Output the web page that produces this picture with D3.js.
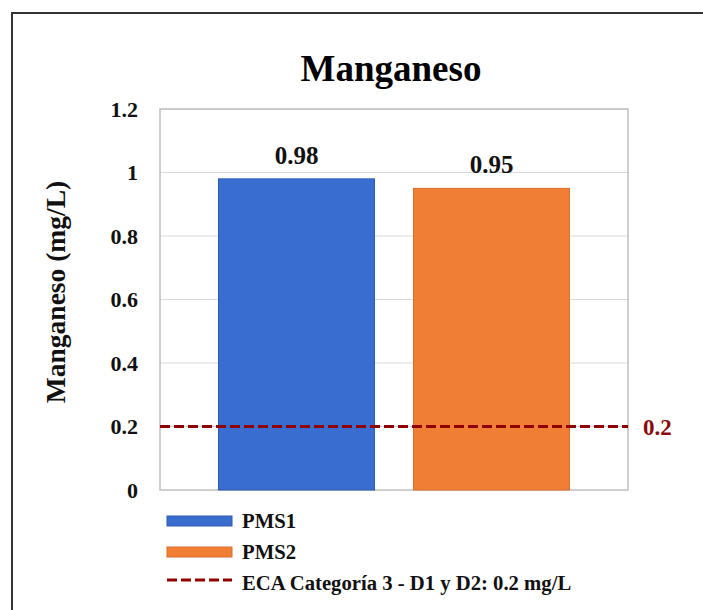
<!DOCTYPE html>
<html>
<head>
<meta charset="utf-8">
<script src="https://cdn.jsdelivr.net/npm/d3@7"></script>
</head>
<body style="margin:0;padding:0;background:#fff">
<svg id="chart" width="703" height="610" style="display:block"></svg>
<script>
// Manganese concentration per monitoring point
const series = ["PMS1", "PMS2"];
const values = [0.98, 0.95];
const colors = ["#3a6dd0", "#f07f35"];
const strokes = ["#2f5cb3", "#d9702c"];
const yTicks = [0, 0.2, 0.4, 0.6, 0.8, 1, 1.2];
const limitValue = 0.2;
const limitLabel = "ECA Categoría 3 - D1 y D2: 0.2 mg/L";
const titleText = "Manganeso";
const yTitle = "Manganeso (mg/L)";

const FONT = "Liberation Serif";
const svg = d3.select("#chart");
const plot = { left: 160, right: 628, top: 109, bottom: 490 };

// Outer frame (top and left edges)
svg.append("path")
  .attr("d", "M12,610 L12,13 L703,13")
  .attr("fill", "none").attr("stroke", "#333").attr("stroke-width", 2);

const x = d3.scaleBand().domain(series)
  .range([plot.left, plot.right]).paddingInner(0.2).paddingOuter(0.3);
const y = d3.scaleLinear().domain([0, 1.2]).range([plot.bottom, plot.top]);

// Gridlines
svg.append("g").selectAll("line").data(yTicks.filter(t => t > 0)).join("line")
  .attr("x1", plot.left).attr("x2", plot.right)
  .attr("y1", d => y(d)).attr("y2", d => y(d))
  .attr("stroke", "#d9d9d9").attr("stroke-width", 1);

// Plot area border
svg.append("rect")
  .attr("x", plot.left).attr("y", plot.top)
  .attr("width", plot.right - plot.left).attr("height", plot.bottom - plot.top)
  .attr("fill", "none").attr("stroke", "#bfbfbf").attr("stroke-width", 1.5);

// Y axis tick labels
const yAxis = d3.axisLeft(y).tickValues(yTicks).tickSize(0).tickPadding(22)
  .tickFormat(d => d3.format("")(d));
const yg = svg.append("g").attr("transform", `translate(${plot.left},0)`).call(yAxis);
yg.attr("font-family", FONT).attr("font-size", 22).attr("font-weight", "bold");
yg.select(".domain").remove();
yg.selectAll("text").attr("fill", "#111");

// Bars
svg.append("g").selectAll("rect").data(series).join("rect")
  .attr("x", d => x(d)).attr("width", x.bandwidth())
  .attr("y", (d, i) => y(values[i]))
  .attr("height", (d, i) => y(0) - y(values[i]))
  .attr("fill", (d, i) => colors[i])
  .attr("stroke", (d, i) => strokes[i]).attr("stroke-width", 1);

// Shared text styling
const txt = (sel, size, fill) => sel.attr("font-family", FONT).attr("font-weight", "bold")
  .attr("font-size", size).attr("fill", fill);

// Value labels
txt(svg.append("g").selectAll("text").data(series).join("text")
  .attr("x", d => x(d) + x.bandwidth() / 2)
  .attr("y", (d, i) => y(values[i]) - 15)
  .attr("text-anchor", "middle"), 25, "#111")
  .text((d, i) => d3.format(".2f")(values[i]));

// Reference limit line
svg.append("line")
  .attr("x1", plot.left).attr("x2", plot.right)
  .attr("y1", y(limitValue)).attr("y2", y(limitValue))
  .attr("stroke", "#900000").attr("stroke-width", 3).attr("stroke-dasharray", "10,4");
txt(svg.append("text")
  .attr("x", plot.right + 15).attr("y", y(limitValue) + 8), 23, "#8b0a0a").text(limitValue);

// Title
txt(svg.append("text").attr("x", 391).attr("y", 81).attr("text-anchor", "middle"), 37, "#000")
  .text(titleText);

// Y axis title
txt(svg.append("text")
  .attr("transform", `translate(65,292) rotate(-90)`)
  .attr("text-anchor", "middle"), 27.5, "#111")
  .text(yTitle);

// Legend
const legend = svg.append("g").attr("transform", "translate(167,0)");
series.forEach((s, i) => {
  const ly = 516 + i * 31;
  legend.append("rect").attr("x", 0).attr("y", ly).attr("width", 65).attr("height", 10)
    .attr("fill", colors[i]).attr("stroke", strokes[i]).attr("stroke-width", 1);
  txt(legend.append("text").attr("x", 75).attr("y", ly + 12), 20.7, "#111").text(s);
});
legend.append("line").attr("x1", 0).attr("x2", 65).attr("y1", 580).attr("y2", 580)
  .attr("stroke", "#900000").attr("stroke-width", 3).attr("stroke-dasharray", "10,4");
txt(legend.append("text").attr("x", 75).attr("y", 590), 20.7, "#111").text(limitLabel);
</script>
</body>
</html>
